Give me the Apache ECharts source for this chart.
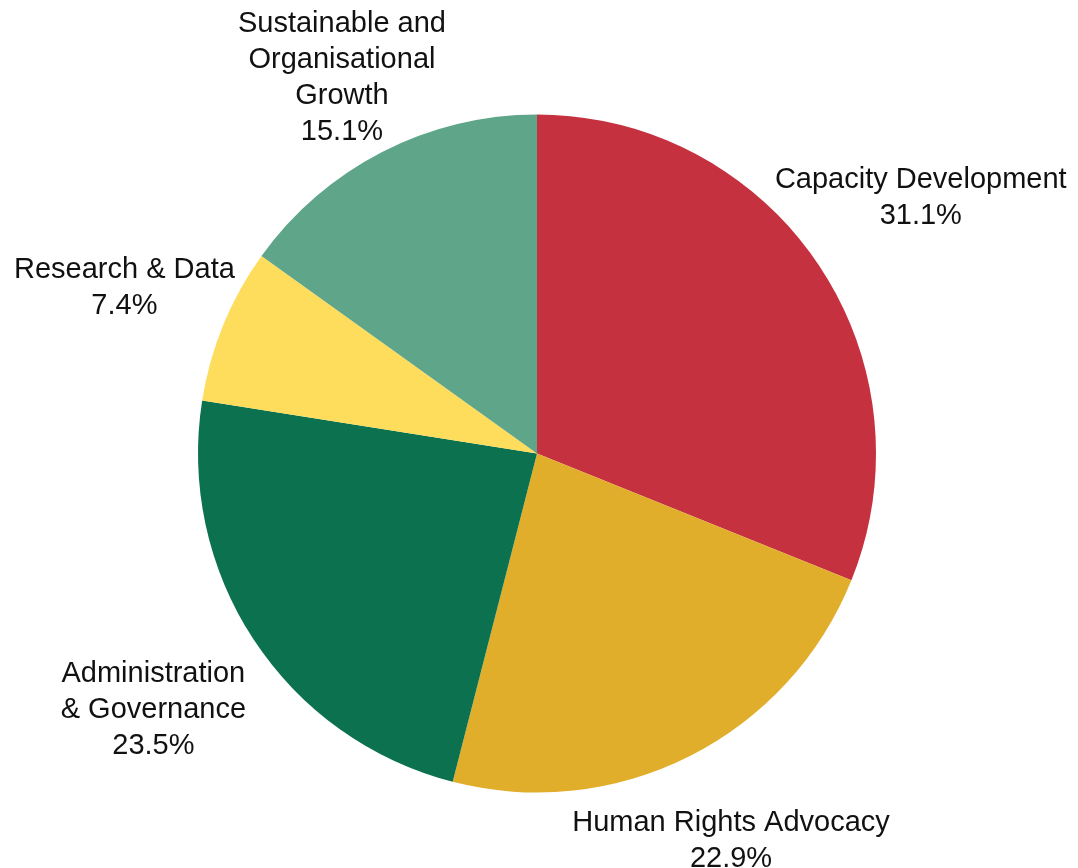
<!DOCTYPE html>
<html>
<head>
<meta charset="utf-8">
<script src="https://cdn.jsdelivr.net/npm/echarts@6/dist/echarts.min.js"></script>
<style>
html,body{margin:0;padding:0;background:#fff;}
#chart{width:1078px;height:868px;}
</style>
</head>
<body>
<div id="chart"></div>
<script>
const categories = [
  'Capacity Development',
  'Human Rights Advocacy',
  'Administration\n& Governance',
  'Research & Data',
  'Sustainable and\nOrganisational\nGrowth'
];
const values = [31.1, 22.9, 23.5, 7.4, 15.1];
const colors = ['#C5313E', '#E1AE2B', '#0B714E', '#FDDD5B', '#5FA58A'];
// radial distance (px) of each label centre from the pie centre
const labelRadius = [463, 430, 459, 446, 427];

const CX = 537, CY = 453.5, R = 339;
const total = values.reduce((a, b) => a + b, 0);

const chart = echarts.init(document.getElementById('chart'), null, {renderer: 'canvas'});
chart.setOption({
  backgroundColor: '#ffffff',
  animation: false,
  series: [{
    type: 'pie',
    center: [CX, CY],
    radius: [0, R],
    startAngle: 90,
    clockwise: true,
    data: categories.map((c, i) => ({name: c, value: values[i], itemStyle: {color: colors[i]}})),
    itemStyle: {borderWidth: 0},
    label: {
      show: true,
      position: 'outside',
      formatter: p => p.name + '\n' + p.value.toFixed(1) + '%',
      fontFamily: 'Liberation Sans, Arial, Helvetica, sans-serif',
      fontSize: 29,
      lineHeight: 36,
      color: '#111',
      align: 'center',
      overflow: 'none',
      width: 400
    },
    labelLine: {show: false},
    emphasis: {disabled: true},
    labelLayout: function (params) {
      const i = params.dataIndex;
      let cum = 0;
      for (let k = 0; k < i; k++) cum += values[k];
      const mid = (cum + values[i] / 2) / total * 2 * Math.PI;
      return {
        x: CX + Math.sin(mid) * labelRadius[i],
        y: CY - Math.cos(mid) * labelRadius[i] + 4,
        align: 'center',
        verticalAlign: 'middle',
        width: 400
      };
    }
  }]
});
</script>
</body>
</html>
